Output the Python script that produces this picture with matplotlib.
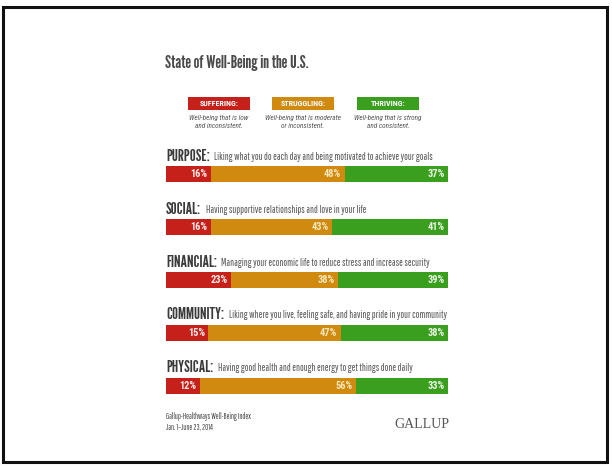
import matplotlib
matplotlib.use("Agg")
import matplotlib.pyplot as plt
from matplotlib.patches import Rectangle
import numpy as np

categories = ["PURPOSE:", "SOCIAL:", "FINANCIAL:", "COMMUNITY:", "PHYSICAL:"]
descriptions = [
    "Liking what you do each day and being motivated to achieve your goals",
    "Having supportive relationships and love in your life",
    "Managing your economic life to reduce stress and increase security",
    "Liking where you live, feeling safe, and having pride in your community",
    "Having good health and enough energy to get things done daily",
]
suffering = [16, 16, 23, 15, 12]
struggling = [48, 43, 38, 47, 56]
thriving = [37, 41, 39, 38, 33]
series_names = ["SUFFERING:", "STRUGGLING:", "THRIVING:"]
series_desc = ["Well-being that is low\nand inconsistent.",
               "Well-being that is moderate\nor inconsistent.",
               "Well-being that is strong\nand consistent."]
title = "State of Well-Being in the U.S."
source = "Gallup-Healthways Well-Being Index\nJan. 1\u2013June 23, 2014"

colors = ["#c5201a", "#d08a10", "#3a9e1e"]
label_colors = ["#fbe9e6", "#f6e7b8", "#eaf6e4"]
gothic = ["Pathway Gothic One", "DejaVu Sans"]
heavy = ["League Gothic", "DejaVu Sans"]
cond = ["Roboto Condensed", "DejaVu Sans"]

W, H = 612, 466
fig = plt.figure(figsize=(W / 100, H / 100), dpi=100)
fig.patch.set_facecolor("white")

def fx(px):
    return px / W

def fy(py):
    return 1 - py / H

# Outer frame
frame = Rectangle((fx(3), fy(462)), fx(607) - fx(3), fy(7) - fy(462),
                  transform=fig.transFigure, fill=False, edgecolor="#111111", lw=2.2)
fig.patches.append(frame)

# Title
fig.text(fx(165), fy(63), title, family=heavy, fontsize=13, color="#4a4a4a",
         va="center", ha="left")

# Legend
leg_x = [188, 272, 357]
leg_w = 62
for name, desc, c, x in zip(series_names, series_desc, colors, leg_x):
    fig.patches.append(Rectangle((fx(x), fy(110)), fx(leg_w), fy(97) - fy(110),
                                 transform=fig.transFigure, facecolor=c, edgecolor="none"))
    fig.text(fx(x + leg_w / 2), fy(103.5), name, fontsize=5.8, color="white",
             weight="bold", ha="center", va="center", family=cond)
    fig.text(fx(x + leg_w / 2), fy(122), desc, fontsize=5.2, color="#555555",
             style="italic", ha="center", va="center", linespacing=1.25, family=cond)

# Bars
data = np.array([suffering, struggling, thriving], dtype=float)
shares = data / data.sum(axis=0) * 100
n = len(categories)
h = 0.31
top_px, bot_px = 166, 394
ax = fig.add_axes([fx(166), fy(bot_px), fx(448) - fx(166), fy(top_px) - fy(bot_px)])
ax.set_xlim(0, 100)
ax.set_ylim(n - 1 + h / 2, -h / 2)
ax.axis("off")
y = np.arange(n)
left = np.zeros(n)
for k in range(3):
    ax.barh(y, shares[k], left=left, height=h, color=colors[k], edgecolor="none")
    for i in range(n):
        ax.text(left[i] + shares[k][i] - 1.2, y[i], f"{int(data[k][i])}%",
                ha="right", va="center", fontsize=7.5, weight="bold",
                color=label_colors[k], family=cond)
    left += shares[k]

for i in range(n):
    t = ax.text(0, y[i] - 0.34, categories[i], ha="left", va="center",
                fontsize=12, color="#3a3a3a", family=heavy, clip_on=False)
    fig.canvas.draw()
    bb = t.get_window_extent()
    x_end = ax.transData.inverted().transform((bb.x1, bb.y0))[0]
    ax.text(x_end + 1.6, y[i] - 0.33, descriptions[i], ha="left", va="center",
            fontsize=7.2, color="#555555", family=gothic, clip_on=False)

# Footer
fig.text(fx(166), fy(422), source, fontsize=5.5, color="#444444", family=gothic,
         ha="left", va="center", linespacing=1.15)
fig.text(fx(449), fy(424), "GALLUP", fontsize=10, color="#555555",
         family="Liberation Serif", ha="right", va="center")

fig.savefig("out.png", dpi=100, facecolor="white")
